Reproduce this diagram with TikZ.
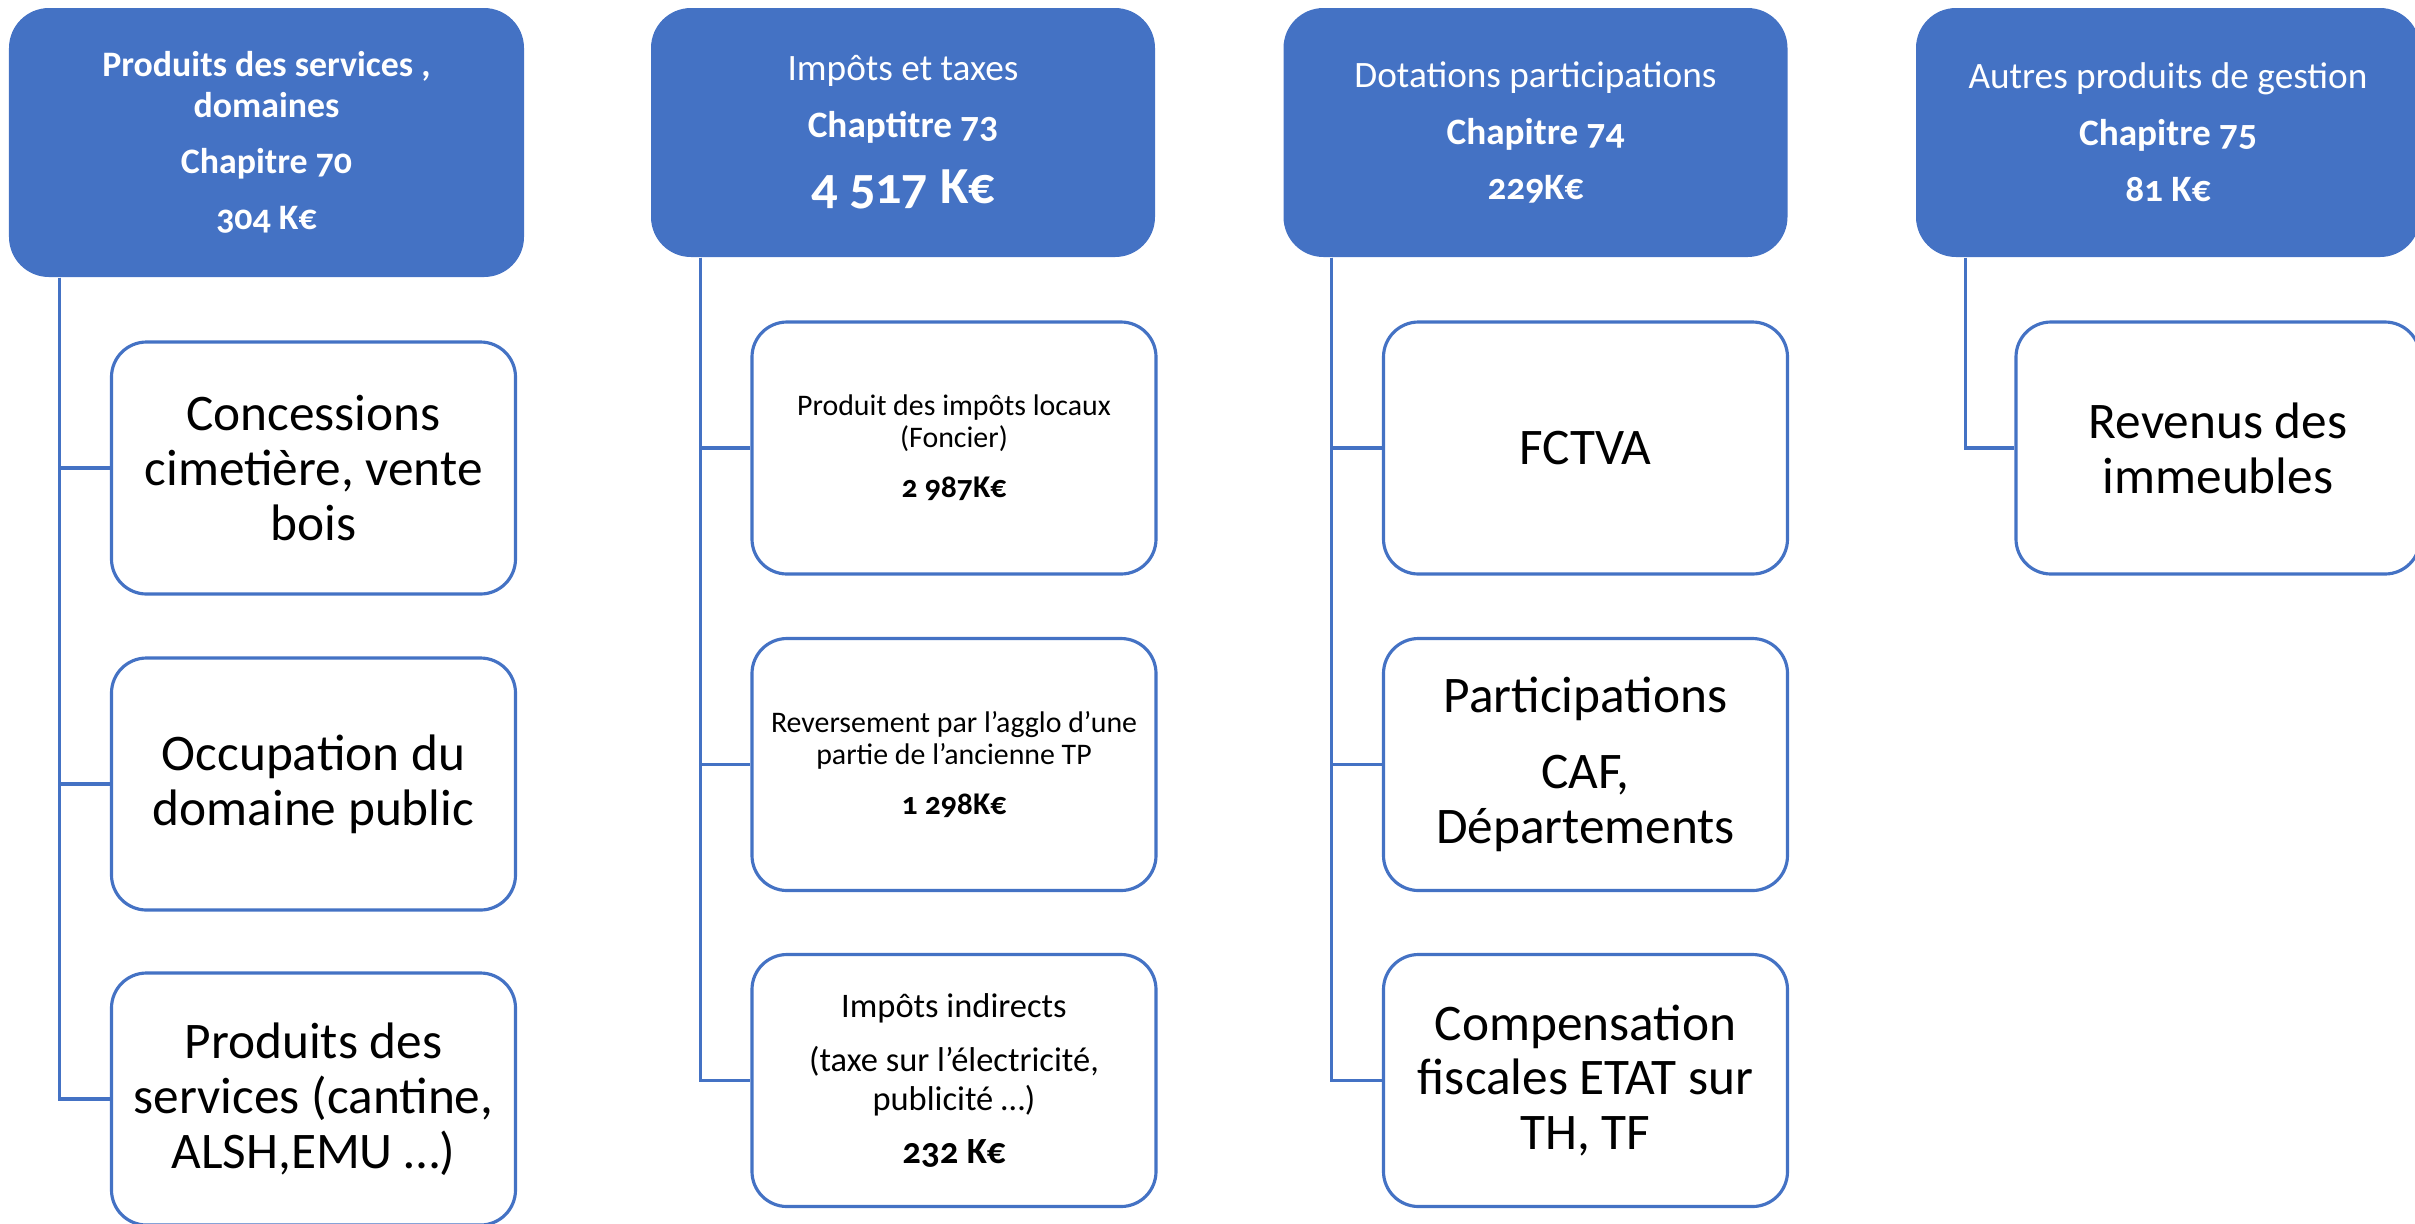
\documentclass[tikz,border=0pt]{standalone}
\usepackage{fontspec}
\setmainfont{Carlito}[Numbers=OldStyle]
\usepackage{tikz}
\definecolor{offblue}{RGB}{68,114,196}
\def\fs#1#2{\fontsize{#1}{#2}\selectfont}

\begin{document}
\begin{tikzpicture}[
	chapbox/.style={fill=offblue, rounded corners=0.4cm, text=white, align=center, inner sep=0pt, minimum width=5.04cm, minimum height=2.49cm},
	itembox/.style={draw=offblue, line width=0.9pt, fill=white, rounded corners=0.35cm, align=center, inner sep=0pt, minimum width=4.04cm, minimum height=2.52cm},
	big/.style={font=\fs{14.6}{15.6}},
	small/.style={font=\fs{8.5}{9.1}},
	link/.style={draw=offblue, line width=0.9pt}
]
			%%%%% START %%%%%
			\useasboundingbox (0,0) rectangle (24.15,-12.23);
			
			\node[chapbox, minimum width=5.15cm, minimum height=2.69cm, font=\fs{10.2}{11.7}\bfseries] (ch70) at (2.665,-1.425) {Produits des services ,\\ domaines\\[4.2pt] Chapitre 70\\[4.2pt] 304 K€};
			\node[chapbox, font=\fs{10.6}{12.7}] (ch73) at (9.03,-1.325) {Impôts et taxes\\[3.5pt] \textbf{Chaptitre 73}\\[6pt] {\fs{14.8}{16}\bfseries 4 517 K€}};
			\node[chapbox, font=\fs{10.6}{12.7}] (ch74) at (15.355,-1.325) {Dotations participations\\[3.5pt] \textbf{Chapitre 74}\\[3.2pt] \textbf{229K€}};
			\node[chapbox, font=\fs{10.6}{12.7}] (ch75) at (21.68,-1.325) {Autres produits de gestion\\[3.5pt] \textbf{Chapitre 75}\\[3.2pt] \textbf{81 K€}};
			
			\node[itembox, big] (c70a) at (3.135,-4.68) {Concessions\\ cimetière, vente\\ bois};
			\node[itembox, big] (c70b) at (3.135,-7.84) {Occupation du\\ domaine public};
			\node[itembox, big] (c70c) at (3.135,-10.99) {Produits des\\ services (cantine,\\ ALSH,EMU …)};
			
			\node[itembox, small] (c73a) at (9.54,-4.48) {Produit des impôts locaux\\ (Foncier)\\[5.2pt] {\fs{9}{10}\bfseries 2 987K€}};
			\node[itembox, small] (c73b) at (9.54,-7.645) {Reversement par l’agglo d’une\\ partie de l’ancienne TP\\[5.2pt] {\fs{9}{10}\bfseries 1 298K€}};
			\node[itembox, font=\fs{9.8}{11.1}] (c73c) at (9.54,-10.805) {Impôts indirects\\[4pt] (taxe sur l’électricité,\\ publicité …)\\[4pt] {\fs{10.5}{11.5}\bfseries 232 K€}};
			
			\node[itembox, big] (c74a) at (15.855,-4.48) {FCTVA};
			\node[itembox, big] (c74b) at (15.855,-7.645) {Participations\\[6pt] CAF,\\ Départements};
			\node[itembox, big] (c74c) at (15.855,-10.805) {Compensation\\ fiscales ETAT sur\\ TH, TF};
			
			\node[itembox, big] (c75a) at (22.18,-4.48) {Revenus des\\ immeubles};
			
			\draw[link] ([xshift=0.51cm]ch70.south west) |- (c70a.west);
			\draw[link] ([xshift=0.51cm]ch70.south west) |- (c70b.west);
			\draw[link] ([xshift=0.51cm]ch70.south west) |- (c70c.west);
			
			\draw[link] ([xshift=0.5cm]ch73.south west) |- (c73a.west);
			\draw[link] ([xshift=0.5cm]ch73.south west) |- (c73b.west);
			\draw[link] ([xshift=0.5cm]ch73.south west) |- (c73c.west);
			
			\draw[link] ([xshift=0.49cm]ch74.south west) |- (c74a.west);
			\draw[link] ([xshift=0.49cm]ch74.south west) |- (c74b.west);
			\draw[link] ([xshift=0.49cm]ch74.south west) |- (c74c.west);
			
			\draw[link] ([xshift=0.5cm]ch75.south west) |- (c75a.west);
			%%%%% END %%%%%
\end{tikzpicture}
\end{document}
